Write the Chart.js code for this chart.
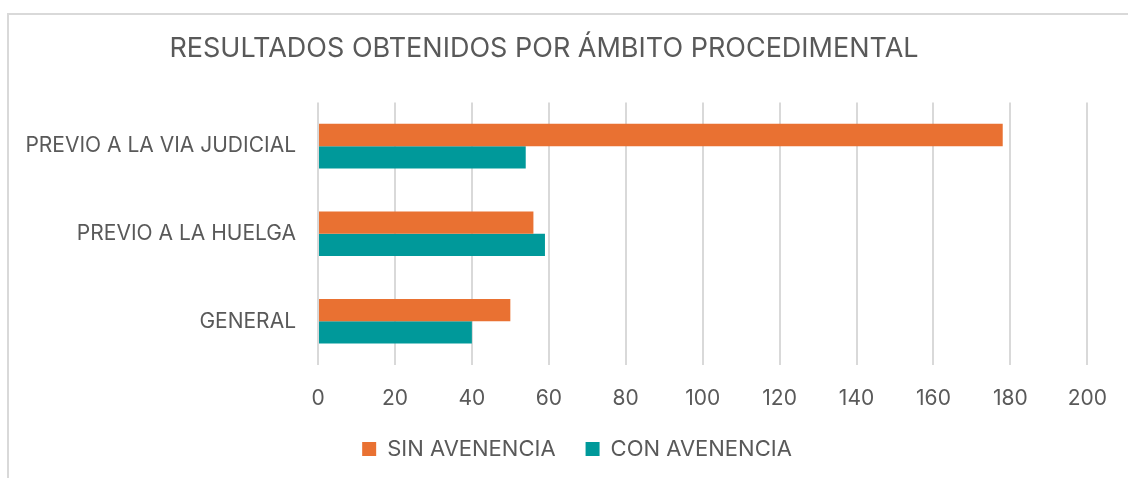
<!DOCTYPE html>
<html>
<head>
<meta charset="utf-8">
<script src="https://cdn.jsdelivr.net/npm/chart.js@4.4.1/dist/chart.umd.min.js"></script>
<style>
  html, body { margin: 0; padding: 0; background: #ffffff; }
  #wrap { width: 1128px; height: 478px; position: relative; }
</style>
</head>
<body>
<div id="wrap"><canvas id="chartID" width="1128" height="478"></canvas></div>
<script>
// data
const categories = ["PREVIO A LA VIA JUDICIAL", "PREVIO A LA HUELGA", "GENERAL"];
const sinAvenencia = [178, 56, 50];
const conAvenencia = [54, 59, 40];
const seriesNames = ["SIN AVENENCIA", "CON AVENENCIA"];
const chartTitle = "RESULTADOS OBTENIDOS POR ÁMBITO PROCEDIMENTAL";

const orange = "#e97132";
const teal = "#00999a";
const textColor = "#595959";
const gridColor = "#d9d9d9";
const fontFamily = "Inter, 'Noto Sans', sans-serif";

// light frame round the chart, like the office chart border
const framePlugin = {
  id: "frame",
  beforeDraw(chart) {
    const ctx = chart.ctx;
    ctx.save();
    ctx.fillStyle = "#ffffff";
    ctx.fillRect(0, 0, chart.width, chart.height);
    ctx.strokeStyle = gridColor;
    ctx.lineWidth = 2;
    ctx.beginPath();
    ctx.moveTo(8, chart.height);
    ctx.lineTo(8, 14);
    ctx.lineTo(chart.width, 14);
    ctx.stroke();
    ctx.restore();
  },
};

// the legend sits a little right of the page centre in the original
const legendShift = {
  id: "legendShift",
  afterLayout(chart) {
    if (chart.legend) {
      chart.legend.left += 33;
      chart.legend.right += 33;
    }
  },
};

const context = document.getElementById("chartID").getContext("2d");

new Chart(context, {
  type: "bar",
  data: {
    labels: categories,
    datasets: [
      { label: seriesNames[0], data: sinAvenencia, backgroundColor: orange },
      { label: seriesNames[1], data: conAvenencia, backgroundColor: teal },
    ],
  },
  options: {
    indexAxis: "y",
    responsive: false,
    animation: false,
    devicePixelRatio: 1,
    layout: { padding: { left: 0, right: 40, top: 0, bottom: 8 } },
    datasets: {
      bar: { categoryPercentage: 0.51, barPercentage: 1.0 },
    },
    plugins: {
      title: {
        display: true,
        text: chartTitle,
        color: textColor,
        font: { family: fontFamily, size: 27, weight: "normal" },
        padding: { top: 33, bottom: 37 },
      },
      legend: {
        position: "bottom",
        labels: {
          color: textColor,
          font: { family: fontFamily, size: 22 },
          boxWidth: 14,
          boxHeight: 14,
          padding: 30,
        },
      },
      tooltip: { enabled: false },
    },
    scales: {
      x: {
        min: 0,
        max: 200,
        ticks: {
          stepSize: 20,
          color: textColor,
          font: { family: fontFamily, size: 21 },
          padding: 21,
        },
        grid: { color: gridColor, lineWidth: 2, drawTicks: false },
        border: { display: false },
        afterFit(scale) {
          scale.height = 43;
        },
      },
      y: {
        ticks: {
          color: textColor,
          font: { family: fontFamily, size: 21 },
          padding: 22,
        },
        grid: { display: false, drawTicks: false },
        border: { display: false },
        afterFit(scale) {
          scale.width = 318;
        },
      },
    },
  },
  plugins: [framePlugin, legendShift],
});
</script>
</body>
</html>
